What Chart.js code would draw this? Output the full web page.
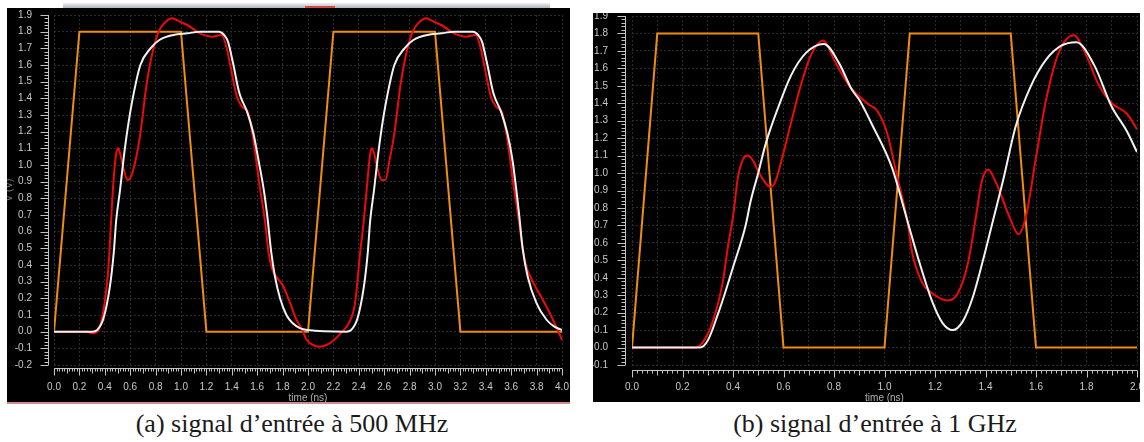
<!DOCTYPE html>
<html><head><meta charset="utf-8">
<script src="https://cdn.jsdelivr.net/npm/chart.js@4.4.0/dist/chart.umd.min.js"></script>
<style>
html,body{margin:0;padding:0;background:#fff;}
body{width:1144px;height:442px;position:relative;overflow:hidden;}
.panel{position:absolute;background:#000;overflow:hidden;}
.panel canvas{position:absolute;left:0;top:0;}
.cap{position:absolute;top:411px;font-family:"Liberation Serif","Times New Roman",serif;font-size:26px;line-height:26px;color:#1a1a1a;white-space:nowrap;transform:translateX(-50%);}
.bar{position:absolute;}
</style></head>
<body>
<div class="bar" style="left:63px;top:3px;width:487px;height:5px;background:linear-gradient(#eef0f3,#aeb4bc);"></div>
<div class="bar" style="left:305px;top:6px;width:30px;height:2px;background:#d84848;"></div>
<div class="panel" style="left:7px;top:8px;width:563px;height:394px;"><canvas id="ca" width="563" height="400"></canvas></div>
<div class="bar" style="left:7px;top:402px;width:563px;height:2px;background:#cf8d8d;"></div>
<div class="panel" style="left:593px;top:13px;width:547px;height:389px;"><canvas id="cb" width="547" height="395"></canvas></div>
<div class="cap" style="left:292px;">(a) signal d’entrée à 500 MHz</div>
<div class="cap" style="left:875px;">(b) signal d’entrée à 1 GHz</div>
<script>
// ---------- (a) 500 MHz ----------
const inputA_t = [0, 0.2, 1.0, 1.2, 2.0, 2.2, 3.0, 3.2, 4.0];
const inputA_v = [0, 1.8, 1.8, 0, 0, 1.8, 1.8, 0, 0];

const redA_t = [0, 0.26, 0.30, 0.34, 0.39, 0.43, 0.45, 0.47, 0.49, 0.505, 0.52, 0.55, 0.58, 0.60, 0.64, 0.68, 0.73, 0.78, 0.83, 0.88, 0.93, 0.99, 1.05, 1.15, 1.25, 1.32, 1.36, 1.39, 1.44, 1.48, 1.53, 1.57, 1.62, 1.66, 1.69, 1.72, 1.75, 1.80, 1.86, 1.91, 1.95, 1.99, 2.04, 2.09, 2.17, 2.27, 2.32, 2.37, 2.41, 2.44, 2.47, 2.49, 2.505, 2.52, 2.55, 2.58, 2.61, 2.64, 2.68, 2.73, 2.78, 2.83, 2.88, 2.93, 2.99, 3.05, 3.15, 3.25, 3.32, 3.36, 3.39, 3.44, 3.48, 3.53, 3.57, 3.62, 3.66, 3.69, 3.72, 3.77, 3.85, 3.93, 4.00];
const redA_v = [0, 0, -0.01, 0.0, 0.13, 0.40, 0.67, 0.92, 1.07, 1.10, 1.07, 0.97, 0.91, 0.92, 1.02, 1.19, 1.49, 1.69, 1.81, 1.86, 1.88, 1.86, 1.84, 1.79, 1.77, 1.78, 1.70, 1.59, 1.41, 1.35, 1.31, 1.15, 0.87, 0.67, 0.47, 0.37, 0.33, 0.28, 0.17, 0.07, 0.02, -0.05, -0.08, -0.09, -0.07, 0.0, 0.05, 0.17, 0.47, 0.67, 0.92, 1.07, 1.10, 1.07, 0.97, 0.91, 0.91, 1.02, 1.19, 1.49, 1.69, 1.81, 1.86, 1.88, 1.86, 1.84, 1.79, 1.77, 1.78, 1.70, 1.59, 1.41, 1.35, 1.31, 1.15, 0.87, 0.67, 0.50, 0.39, 0.30, 0.19, 0.07, -0.05];

const whiteA_t = [0, 0.30, 0.34, 0.39, 0.44, 0.47, 0.49, 0.52, 0.55, 0.58, 0.62, 0.68, 0.76, 0.83, 0.94, 1.05, 1.15, 1.30, 1.34, 1.37, 1.41, 1.46, 1.52, 1.57, 1.61, 1.65, 1.68, 1.71, 1.74, 1.78, 1.83, 1.88, 1.94, 2.00, 2.30, 2.34, 2.39, 2.44, 2.47, 2.49, 2.52, 2.55, 2.58, 2.62, 2.68, 2.76, 2.83, 2.94, 3.05, 3.15, 3.30, 3.34, 3.37, 3.41, 3.46, 3.52, 3.57, 3.61, 3.66, 3.69, 3.73, 3.80, 3.88, 3.94, 4.00];
const whiteA_v = [0, 0, 0.01, 0.08, 0.27, 0.47, 0.67, 0.85, 1.05, 1.22, 1.40, 1.60, 1.70, 1.75, 1.78, 1.79, 1.80, 1.80, 1.78, 1.74, 1.61, 1.43, 1.32, 1.19, 1.03, 0.86, 0.69, 0.48, 0.33, 0.20, 0.10, 0.05, 0.02, 0.01, 0, 0.01, 0.08, 0.27, 0.47, 0.67, 0.85, 1.05, 1.22, 1.40, 1.60, 1.70, 1.75, 1.78, 1.79, 1.80, 1.80, 1.78, 1.74, 1.61, 1.43, 1.32, 1.19, 1.03, 0.72, 0.50, 0.33, 0.17, 0.07, 0.03, 0.01];

// ---------- (b) 1 GHz ----------
const inputB_t = [0, 0.1, 0.5, 0.6, 1.0, 1.1, 1.5, 1.6, 2.0];
const inputB_v = [0, 1.8, 1.8, 0, 0, 1.8, 1.8, 0, 0];

const redB_t = [0, 0.25, 0.28, 0.32, 0.36, 0.38, 0.40, 0.42, 0.44, 0.457, 0.48, 0.50, 0.53, 0.55, 0.57, 0.59, 0.63, 0.67, 0.71, 0.757, 0.80, 0.83, 0.86, 0.90, 0.94, 0.97, 1.01, 1.05, 1.09, 1.11, 1.15, 1.19, 1.25, 1.29, 1.33, 1.36, 1.385, 1.41, 1.44, 1.46, 1.50, 1.53, 1.56, 1.60, 1.64, 1.69, 1.75, 1.80, 1.85, 1.90, 1.96, 2.00];
const redB_v = [0, 0, 0.03, 0.15, 0.38, 0.58, 0.75, 0.98, 1.08, 1.10, 1.07, 1.01, 0.94, 0.92, 0.96, 1.06, 1.29, 1.51, 1.68, 1.76, 1.65, 1.57, 1.50, 1.44, 1.39, 1.36, 1.23, 0.98, 0.73, 0.54, 0.37, 0.31, 0.27, 0.31, 0.48, 0.73, 0.95, 1.02, 0.95, 0.88, 0.73, 0.65, 0.75, 1.09, 1.42, 1.69, 1.79, 1.67, 1.50, 1.40, 1.34, 1.25];

const whiteB_t = [0, 0.24, 0.27, 0.30, 0.34, 0.37, 0.40, 0.45, 0.47, 0.50, 0.53, 0.58, 0.63, 0.69, 0.76, 0.82, 0.87, 0.90, 0.95, 1.03, 1.09, 1.14, 1.19, 1.23, 1.27, 1.31, 1.35, 1.39, 1.43, 1.47, 1.52, 1.58, 1.64, 1.70, 1.76, 1.83, 1.90, 1.96, 2.00];
const whiteB_v = [0, 0, 0.0, 0.04, 0.19, 0.32, 0.46, 0.70, 0.84, 1.00, 1.17, 1.38, 1.56, 1.69, 1.74, 1.63, 1.48, 1.42, 1.28, 1.03, 0.73, 0.48, 0.26, 0.14, 0.10, 0.15, 0.29, 0.50, 0.73, 0.96, 1.27, 1.50, 1.65, 1.73, 1.75, 1.62, 1.38, 1.24, 1.12];

// ---------- helpers ----------
const pts = (t, v) => t.map((x, i) => ({x: x, y: v[i]}));

const rulerPlugin = {
  id: 'ruler',
  afterDraw(chart, args, o) {
    const ctx = chart.ctx, xs = chart.scales.x, ys = chart.scales.y, ca = chart.chartArea;
    ctx.save();
    ctx.strokeStyle = '#c4c4c4';
    ctx.lineWidth = 1;
    ctx.beginPath();
    // vertical ruler (y)
    const lx = Math.round(ca.left - o.yGap) + 0.5;
    ctx.moveTo(lx, ys.getPixelForValue(ys.max));
    ctx.lineTo(lx, ys.getPixelForValue(ys.min));
    const ny = Math.round((ys.max - ys.min) / o.yMinor);
    for (let k = 0; k <= ny; k++) {
      const p = Math.round(ys.getPixelForValue(ys.min + k * o.yMinor)) + 0.5;
      const len = (k % o.yMajorEvery === 0) ? 8 : 4;
      ctx.moveTo(lx, p); ctx.lineTo(lx - len, p);
    }
    // horizontal ruler (x)
    const ly = Math.round(ca.bottom + o.xGap) + 0.5;
    ctx.moveTo(xs.getPixelForValue(xs.min), ly);
    ctx.lineTo(xs.getPixelForValue(xs.max), ly);
    const nx = Math.round((xs.max - xs.min) / o.xMinor);
    for (let k = 0; k <= nx; k++) {
      const p = Math.round(xs.getPixelForValue(xs.min + k * o.xMinor)) + 0.5;
      let len = 3;
      if (k % o.xMajorEvery === 0) len = 7; else if (k % o.xMidEvery === 0) len = 5;
      ctx.moveTo(p, ly); ctx.lineTo(p, ly + len);
    }
    ctx.stroke();
    ctx.restore();
  }
};

function makeChart(id, cfg) {
  const tickFont = {family: '"Liberation Sans", Arial, sans-serif', size: 10};
  return new Chart(document.getElementById(id), {
    type: 'line',
    data: {
      datasets: [
        {data: pts(cfg.white[0], cfg.white[1]), borderColor: '#f2f2f2', borderWidth: 2, pointRadius: 0, cubicInterpolationMode: 'monotone'},
        {data: pts(cfg.red[0], cfg.red[1]), borderColor: '#ee0a0a', borderWidth: 2, pointRadius: 0, cubicInterpolationMode: 'monotone'},
        {data: pts(cfg.input[0], cfg.input[1]), borderColor: '#f08d0c', borderWidth: 2, pointRadius: 0, tension: 0}
      ]
    },
    options: {
      responsive: false,
      animation: false,
      events: [],
      layout: {padding: cfg.pad},
      plugins: {legend: {display: false}, tooltip: {enabled: false}, ruler: cfg.ruler},
      scales: {
        x: {
          type: 'linear', min: cfg.xMin, max: cfg.xMax,
          afterFit: s => { s.height = cfg.xH; s.paddingLeft = 0; s.paddingRight = 0; },
          border: {display: false, dash: [2, 2]},
          grid: {color: '#2b2b2b', drawTicks: false},
          ticks: {stepSize: cfg.xStep, autoSkip: false, maxRotation: 0, padding: 16, color: '#c8c8c8', font: tickFont,
                  callback: cfg.xLabel},
          title: {display: true, text: 'time (ns)', color: '#b0b0b0', font: {family: '"Liberation Sans", Arial, sans-serif', size: 10}, padding: {top: 0, bottom: 3.6}}
        },
        y: {
          min: -0.2 + cfg.yMinShift, max: 1.9,
          afterFit: s => { s.width = cfg.yW; s.paddingTop = 0; s.paddingBottom = 0; },
          border: {display: false, dash: [2, 2]},
          grid: {color: '#2b2b2b', drawTicks: false},
          ticks: {stepSize: 0.1, autoSkip: false, padding: cfg.yPad, color: '#c8c8c8', font: tickFont,
                  callback: v => Number(v).toFixed(1)},
          title: {display: cfg.yTitle, text: 'V (V)', color: '#7a7a7a', font: {family: '"Liberation Sans", Arial, sans-serif', size: 10}, padding: {top: -4, bottom: 0}}
        }
      }
    },
    plugins: [rulerPlugin]
  });
}

makeChart('ca', {
  white: [whiteA_t, whiteA_v], red: [redA_t, redA_v], input: [inputA_t, inputA_v],
  pad: {top: 7, right: 8, left: 0, bottom: 0},
  xMin: 0, xMax: 4, xStep: 0.2, xH: 43, yW: 47, yPad: 22, yMinShift: 0, yTitle: true,
  xLabel: v => Number(v).toFixed(1),
  ruler: {yGap: 6, xGap: 3, yMinor: 0.02, yMajorEvery: 5, xMinor: 0.02, xMajorEvery: 10, xMidEvery: 5}
});

makeChart('cb', {
  white: [whiteB_t, whiteB_v], red: [redB_t, redB_v], input: [inputB_t, inputB_v],
  pad: {top: 3, right: 3, left: 0, bottom: 0},
  xMin: 0, xMax: 2, xStep: 0.1, xH: 43, yW: 39, yPad: 24, yMinShift: 0.1, yTitle: false,
  xLabel: v => (Math.round(v * 10) % 2 === 0 ? Number(v).toFixed(1) : ''),
  ruler: {yGap: 7, xGap: 5, yMinor: 0.02, yMajorEvery: 5, xMinor: 0.02, xMajorEvery: 10, xMidEvery: 5}
});
</script>
</body></html>
